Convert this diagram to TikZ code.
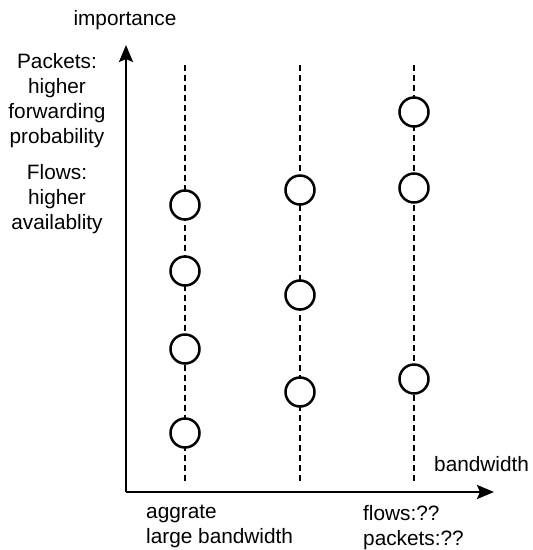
\documentclass[tikz,border=0pt]{standalone}
\usepackage{fontspec}
\setmainfont{Liberation Sans}
\usetikzlibrary{arrows.meta}
\begin{document}
\begin{tikzpicture}[x=1pt,y=-1pt,
  axisline/.style={line width=2.6pt,-{Stealth[length=17pt,width=14pt,inset=3pt]}},
  guide/.style={line width=2.4pt,dash pattern=on 6pt off 4pt},
  dot/.style={circle,draw,line width=2.5pt,fill=white,minimum size=29pt,inner sep=0pt},
  lbl/.style={font=\fontsize{20.8}{25}\selectfont,inner sep=0pt,align=center}]
\useasboundingbox (0,0) rectangle (533,550);

% axes
\coordinate (o) at (126,492);
\coordinate (ytop) at (126,45);
\coordinate (xend) at (494,492);
\draw[axisline] (o) -- (ytop);
\draw[axisline] (o) -- (xend);

% vertical guides
\foreach \n/\x in {a/185,b/300,c/414}{
  \coordinate (\n top) at (\x,65);
  \coordinate (\n bot) at (\x,481);
  \draw[guide] (\n top) -- (\n bot);
}

% markers
\node[dot] (a1) at (185,205) {};
\node[dot] (a2) at (185,271) {};
\node[dot] (a3) at (185,349) {};
\node[dot] (a4) at (185,433) {};
\node[dot] (b1) at (300,190) {};
\node[dot] (b2) at (300,295) {};
\node[dot] (b3) at (300,392) {};
\node[dot] (c1) at (414,112) {};
\node[dot] (c2) at (414,188) {};
\node[dot] (c3) at (414,379) {};

% labels
\node[lbl] (imp) at (125,20) {importance};
\node[lbl,anchor=north] (pk) at (57,53) {Packets:\\higher\\forwarding\\probability};
\node[lbl,anchor=north] (fl) at (57,164) {Flows:\\higher\\availablity};
\node[lbl,anchor=west] (bw) at (434,464) {bandwidth};
\node[lbl,anchor=north west,align=left] (ag) at (146,505) {aggrate\\large bandwidth};
\node[lbl,anchor=north west,align=left] (fp) at (363,505) {flows:??\\packets:??};
\end{tikzpicture}
\end{document}
